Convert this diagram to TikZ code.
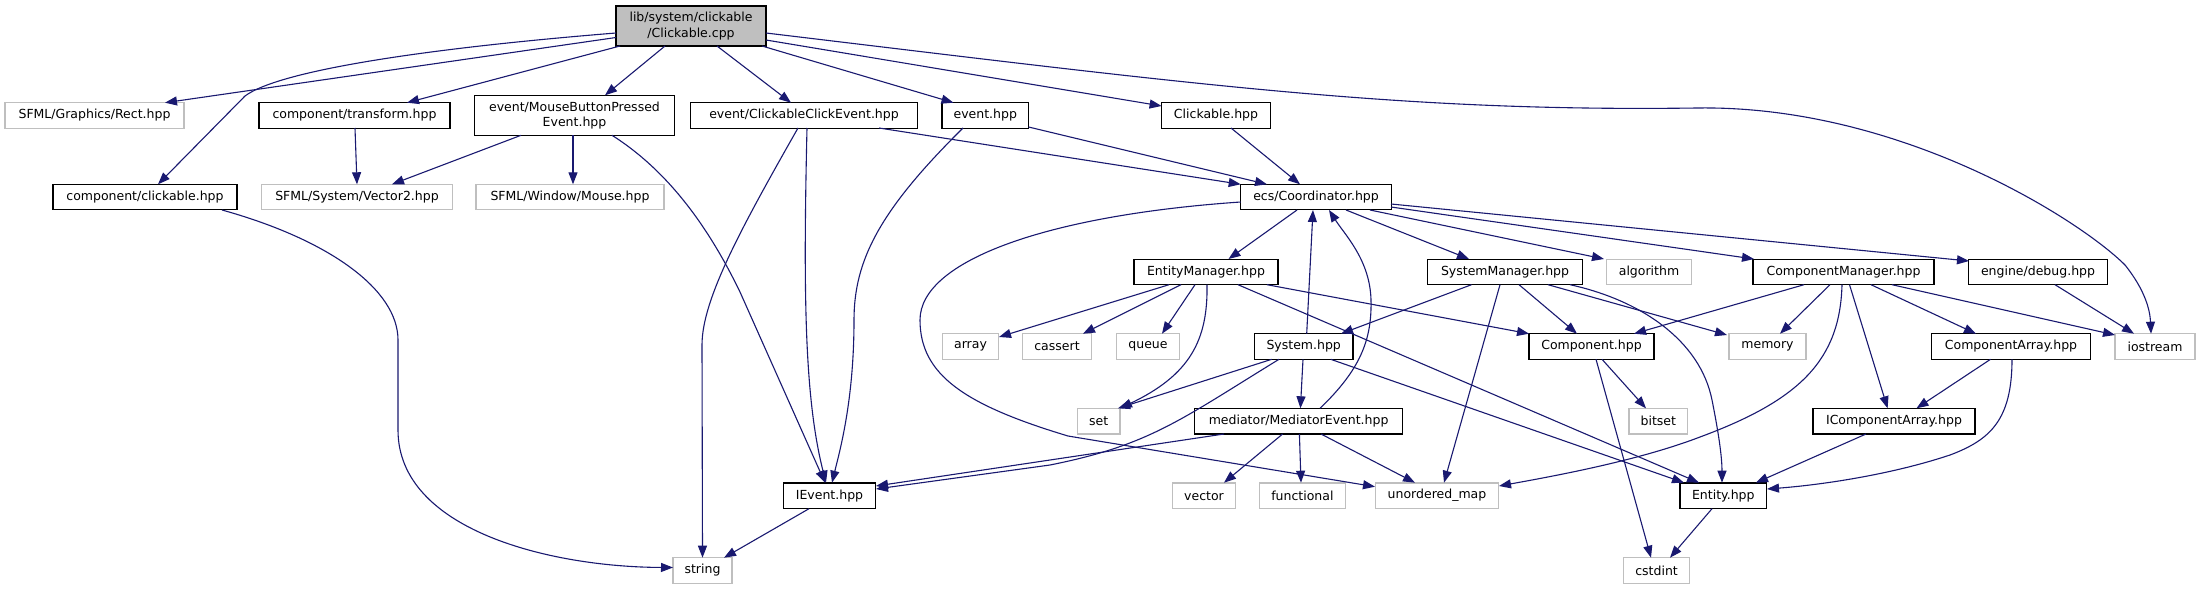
\documentclass[tikz,border=0pt]{standalone}
\usepackage{fontspec}
\setmainfont{DejaVu Sans}
\usetikzlibrary{arrows.meta}
\definecolor{edgeblue}{HTML}{191970}
\definecolor{graybox}{HTML}{BFBFBF}
\begin{document}
\begin{tikzpicture}[x=1pt,y=-1pt,
  nd/.style={draw=black, line width=1.1pt, fill=white, inner sep=0pt, minimum height=25.5pt, font=\fontsize{12.5}{15.5}\selectfont, text=black},
  ext/.style={nd, draw=graybox},
  edge/.style={draw=edgeblue, line width=1.1pt, -{Triangle[length=12pt,width=9pt]}},
]
\fill[white] (0,0) rectangle (2201,589);
\useasboundingbox (0,0) rectangle (2201,589);

% nodes
\node[nd, fill=graybox, minimum width=150, minimum height=40, align=center] (main) at (691,26) {lib/system/clickable\\/Clickable.cpp};
\node[ext, minimum width=179] (rect) at (94.5,115.3) {SFML/Graphics/Rect.hpp};
\node[nd, minimum width=191] (transform) at (354.5,115.3) {component/transform.hpp};
\node[nd, minimum width=200, minimum height=40, align=center] (mbp) at (574.5,115.3) {event/MouseButtonPressed\\Event.hpp};
\node[nd, minimum width=226.5] (cce) at (804,115.3) {event/ClickableClickEvent.hpp};
\node[nd, minimum width=86.6] (event) at (985.3,115.3) {event.hpp};
\node[nd, minimum width=109.6] (clickh) at (1216,115.3) {Clickable.hpp};
\node[nd, minimum width=184] (cclick) at (145,197) {component/clickable.hpp};
\node[ext, minimum width=190.5] (vec2) at (357,197) {SFML/System/Vector2.hpp};
\node[ext, minimum width=188] (mouse) at (570,197) {SFML/Window/Mouse.hpp};
\node[nd, minimum width=150.5] (coord) at (1316,197) {ecs/Coordinator.hpp};
\node[nd, minimum width=144] (entm) at (1206,272) {EntityManager.hpp};
\node[nd, minimum width=155] (sysm) at (1505,272) {SystemManager.hpp};
\node[ext, minimum width=85.5] (algo) at (1649,272) {algorithm};
\node[nd, minimum width=181] (compm) at (1843.5,272) {ComponentManager.hpp};
\node[nd, minimum width=138.5] (debug) at (2038,272) {engine/debug.hpp};
\node[ext, minimum width=56] (array) at (970.5,346.5) {array};
\node[ext, minimum width=69.3] (cassert) at (1057,346.5) {cassert};
\node[ext, minimum width=62.7] (queue) at (1148,346.5) {queue};
\node[nd, minimum width=98.6] (system) at (1303.7,346.5) {System.hpp};
\node[nd, minimum width=125] (comp) at (1591.5,346.5) {Component.hpp};
\node[ext, minimum width=77] (memory) at (1767.5,346.5) {memory};
\node[nd, minimum width=158.3] (comparr) at (2011,346.5) {ComponentArray.hpp};
\node[ext, minimum width=80] (iostream) at (2155,346.5) {iostream};
\node[ext, minimum width=42.6] (set) at (1098.7,421.2) {set};
\node[nd, minimum width=208] (mediator) at (1298.6,421.2) {mediator/MediatorEvent.hpp};
\node[ext, minimum width=58.7] (bitset) at (1658.3,421.2) {bitset};
\node[nd, minimum width=162] (icomparr) at (1894,421.2) {IComponentArray.hpp};
\node[nd, minimum width=91.5] (ievent) at (829.5,495.7) {IEvent.hpp};
\node[ext, minimum width=62.6] (vector) at (1204,495.7) {vector};
\node[ext, minimum width=86.7] (functional) at (1302.4,495.7) {functional};
\node[ext, minimum width=123.8] (umap) at (1437,495.7) {unordered\_map};
\node[nd, minimum width=86.6] (entity) at (1723.3,495.7) {Entity.hpp};
\node[ext, minimum width=59] (string) at (702.5,570.5) {string};
\node[ext, minimum width=66] (cstdint) at (1656.6,570.5) {cstdint};

% edges from main
\draw[edge] ([shift={(-75,11.5)}]main.center) -- ([shift={(70.5,-12.6)}]rect.center);
\draw[edge] ([shift={(-75,7)}]main.center) .. controls (430,48) and (280,70) .. (245,96) -- ([shift={(13,-12.7)}]cclick.center);
\draw[edge] ([shift={(-71,20)}]main.center) -- ([shift={(52.5,-12.6)}]transform.center);
\draw[edge] ([shift={(-26,20)}]main.center) -- ([shift={(30.5,-20)}]mbp.center);
\draw[edge] ([shift={(26,20)}]main.center) -- ([shift={(-13,-12.6)}]cce.center);
\draw[edge] ([shift={(71,20)}]main.center) -- ([shift={(-31.8,-12.6)}]event.center);
\draw[edge] ([shift={(75,14)}]main.center) -- ([shift={(-54.4,-9.3)}]clickh.center);
\draw[edge] ([shift={(75,7)}]main.center) .. controls (1200,85) and (1400,112) .. (1697,108) .. controls (1900,105) and (2080,220) .. (2125,265) .. controls (2145,290) and (2150,310) .. ([shift={(-4,-12.8)}]iostream.center);

% second row
\draw[edge] ([shift={(0.5,12.7)}]transform.center) -- ([shift={(0,-12.7)}]vec2.center);
\draw[edge] ([shift={(-53.5,20)}]mbp.center) -- ([shift={(35,-12.7)}]vec2.center);
\draw[edge] ([shift={(-1.5,20)}]mbp.center) -- ([shift={(3,-12.7)}]mouse.center);
\draw[edge] ([shift={(37.5,20)}]mbp.center) .. controls (670,172) and (710,230) .. (740,292) -- ([shift={(-4.5,-13)}]ievent.center);
\draw[edge] ([shift={(-6,12.7)}]cce.center) .. controls (740,230) and (702,300) .. (702,345) -- ([shift={(0,-12.8)}]string.center);
\draw[edge] ([shift={(3,12.7)}]cce.center) .. controls (803,300) and (805,400) .. ([shift={(-3.5,-13)}]ievent.center);
\draw[edge] ([shift={(-22.3,12.7)}]event.center) .. controls (880,210) and (854,260) .. (854,320) .. controls (854,400) and (840,450) .. ([shift={(2.5,-13)}]ievent.center);
\draw[edge] ([shift={(75,12.7)}]cce.center) -- ([shift={(-75.3,-12.7)}]coord.center);
\draw[edge] ([shift={(43.3,11.7)}]event.center) -- ([shift={(-49,-12.7)}]coord.center);
\draw[edge] ([shift={(15,12.7)}]clickh.center) -- ([shift={(-16,-12.7)}]coord.center);
\draw[edge] ([shift={(77,13)}]cclick.center) .. controls (330,240) and (398,290) .. (398,340) -- (398,430) .. controls (398,530) and (550,567) .. ([shift={(-29.5,-3)}]string.center);
\draw[edge] ([shift={(-20.5,13)}]ievent.center) -- ([shift={(21.5,-12.8)}]string.center);

% coordinator
\draw[edge] ([shift={(-19,13)}]coord.center) -- ([shift={(22.5,-13)}]entm.center);
\draw[edge] ([shift={(-75.3,5)}]coord.center) .. controls (1050,215) and (920,260) .. (920,320) .. controls (920,375) and (965,405) .. (1068,436) -- ([shift={(-62,-9)}]umap.center);
\draw[edge] ([shift={(30,13)}]coord.center) -- ([shift={(-36,-13)}]sysm.center);
\draw[edge] ([shift={(54,13)}]coord.center) -- ([shift={(-45,-13)}]algo.center);
\draw[edge] ([shift={(75,10)}]coord.center) -- ([shift={(-89.5,-13)}]compm.center);
\draw[edge] ([shift={(75,7)}]coord.center) -- ([shift={(-69,-11)}]debug.center);
\draw[edge] ([shift={(3,-12.8)}]system.center) -- ([shift={(-3,13)}]coord.center);
\draw[edge] ([shift={(21.4,-12.9)}]mediator.center) .. controls (1360,370) and (1372,340) .. (1371,300) .. controls (1370,260) and (1345,235) .. ([shift={(13,13)}]coord.center);

% entity manager
\draw[edge] ([shift={(-37,12.7)}]entm.center) -- ([shift={(28.5,-9.5)}]array.center);
\draw[edge] ([shift={(-25,12.7)}]entm.center) -- ([shift={(26,-12.8)}]cassert.center);
\draw[edge] ([shift={(-11,12.7)}]entm.center) -- ([shift={(14,-12.8)}]queue.center);
\draw[edge] ([shift={(1,12.7)}]entm.center) .. controls (1208,340) and (1190,375) .. ([shift={(21.3,-12.9)}]set.center);
\draw[edge] ([shift={(61,12.7)}]entm.center) -- ([shift={(-62.5,-12.8)}]comp.center);
\draw[edge] ([shift={(32,12.7)}]entm.center) -- ([shift={(-24.3,-13)}]entity.center);

% system manager
\draw[edge] ([shift={(-33.5,12.7)}]sysm.center) -- ([shift={(37.3,-12.8)}]system.center);
\draw[edge] ([shift={(-5,12.7)}]sysm.center) -- ([shift={(7,-13)}]umap.center);
\draw[edge] ([shift={(14,12.7)}]sysm.center) -- ([shift={(-14.5,-12.8)}]comp.center);
\draw[edge] ([shift={(43,12.7)}]sysm.center) -- ([shift={(-40.5,-11.5)}]memory.center);
\draw[edge] ([shift={(65,12.7)}]sysm.center) .. controls (1640,300) and (1700,340) .. (1712,400) .. controls (1720,440) and (1722,460) .. ([shift={(-1.3,-13)}]entity.center);

% system
\draw[edge] ([shift={(-32,12.8)}]system.center) -- ([shift={(19.3,-12.9)}]set.center);
\draw[edge] ([shift={(-24.7,12.8)}]system.center) .. controls (1180,420) and (1150,445) .. (1050,465) -- ([shift={(46.5,-6.7)}]ievent.center);
\draw[edge] ([shift={(-0.7,12.8)}]system.center) -- ([shift={(1.8,-12.9)}]mediator.center);
\draw[edge] ([shift={(27,12.8)}]system.center) -- ([shift={(-39.3,-13)}]entity.center);

% mediator
\draw[edge] ([shift={(-74.6,12.8)}]mediator.center) -- ([shift={(46.5,-9.7)}]ievent.center);
\draw[edge] ([shift={(-16,12.8)}]mediator.center) -- ([shift={(20,-13)}]vector.center);
\draw[edge] ([shift={(0.8,12.8)}]mediator.center) -- ([shift={(-1.4,-13)}]functional.center);
\draw[edge] ([shift={(22.4,12.8)}]mediator.center) -- ([shift={(-22,-13)}]umap.center);

% component
\draw[edge] ([shift={(10.5,12.8)}]comp.center) -- ([shift={(-12.3,-12.9)}]bitset.center);
\draw[edge] ([shift={(4.5,12.8)}]comp.center) -- ([shift={(-5.6,-12.8)}]cstdint.center);

% component manager
\draw[edge] ([shift={(-39.5,12.7)}]compm.center) -- ([shift={(42.5,-12.8)}]comp.center);
\draw[edge] ([shift={(-13.5,12.7)}]compm.center) -- ([shift={(12.5,-12.8)}]memory.center);
\draw[edge] ([shift={(-1.5,12.7)}]compm.center) .. controls (1840,360) and (1800,400) .. (1700,437) .. controls (1640,460) and (1560,475) .. ([shift={(62,-9.7)}]umap.center);
\draw[edge] ([shift={(6,12.7)}]compm.center) -- ([shift={(-6.4,-12.9)}]icomparr.center);
\draw[edge] ([shift={(27.5,12.7)}]compm.center) -- ([shift={(-35,-12.8)}]comparr.center);
\draw[edge] ([shift={(48.5,12.7)}]compm.center) -- ([shift={(-40,-11.5)}]iostream.center);
\draw[edge] ([shift={(17,12.7)}]debug.center) -- ([shift={(-21,-12.8)}]iostream.center);

% component arrays / entity
\draw[edge] ([shift={(-20.5,12.8)}]comparr.center) -- ([shift={(22.5,-12.9)}]icomparr.center);
\draw[edge] ([shift={(1,12.8)}]comparr.center) .. controls (2012,420) and (1990,440) .. (1950,455) .. controls (1890,475) and (1820,485) .. ([shift={(43.7,-6.7)}]entity.center);
\draw[edge] ([shift={(-28,12.8)}]icomparr.center) -- ([shift={(32.7,-13)}]entity.center);
\draw[edge] ([shift={(-11.3,13)}]entity.center) -- ([shift={(13.4,-12.8)}]cstdint.center);
\end{tikzpicture}
\end{document}
